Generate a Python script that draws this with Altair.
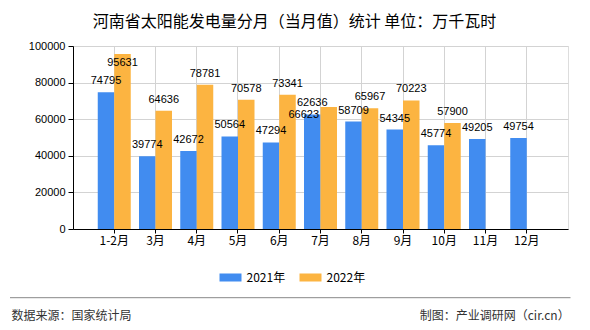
import altair as alt
import pandas as pd

months = ["1-2月", "3月", "4月", "5月", "6月", "7月", "8月", "9月", "10月", "11月", "12月"]
v2021 = [74795, 39774, 42672, 50564, 47294, 62636, 58709, 54345, 45774, 49205, 49754]
v2022 = [95631, 64636, 78781, 70578, 73341, 66623, 65967, 70223, 57900, None, None]
years = ["2021年", "2022年"]
colors = ["#418CF0", "#FCB441"]
y_ticks = [0, 20000, 40000, 60000, 80000, 100000]

title_text = "河南省太阳能发电量分月（当月值）统计  单位：万千瓦时"
source_text = "数据来源：国家统计局"
credit_text = "制图：产业调研网（cir.cn）"

rows = []
for m, a, b in zip(months, v2021, v2022):
    rows.append({"month": m, "year": years[0], "value": a})
    if b is not None:
        rows.append({"month": m, "year": years[1], "value": b})
df = pd.DataFrame(rows)

CJK = "Noto Sans CJK SC"
NUM = "Liberation Sans"
GRID = "#D3D3D3"

base = alt.Chart(df).encode(
    x=alt.X(
        "month:N",
        sort=months,
        scale=alt.Scale(paddingInner=0.2, paddingOuter=0.6),
        axis=alt.Axis(
            title=None, labelAngle=0, grid=True, gridColor=GRID, bandPosition=0.5,
            domainColor="#000", tickColor="#000", tickSize=4,
            labelFont=CJK, labelFontSize=12, labelColor="#000", labelPadding=2,
        ),
    ),
    xOffset=alt.XOffset("year:N", sort=years, scale=alt.Scale(paddingInner=0, paddingOuter=0)),
    y=alt.Y(
        "value:Q",
        scale=alt.Scale(domain=[0, 100000], nice=False),
        axis=alt.Axis(
            title=None, values=y_ticks, format="d", grid=True, gridColor=GRID,
            domainColor="#000", tickColor="#000", tickSize=5,
            labelFont=NUM, labelFontSize=11, labelColor="#000", labelPadding=3,
        ),
    ),
)

bars = base.mark_bar().encode(
    color=alt.Color(
        "year:N",
        sort=years,
        scale=alt.Scale(domain=years, range=colors),
        legend=alt.Legend(
            title=None, orient="none", direction="horizontal",
            legendX=146.5, legendY=220.5, padding=0,
            symbolType="M-1,-0.364H1V0.364H-1Z", symbolSize=484,
            symbolStrokeWidth=0, symbolOpacity=1,
            labelFont=CJK, labelFontSize=12, labelColor="#000",
            labelOffset=5, columnPadding=14,
        ),
    )
)

txt = dict(font=NUM, fontSize=11, color="#000", baseline="alphabetic")
label_text = alt.Text("value:Q", format="d")

labels_normal = base.mark_text(dy=-8, **txt).encode(text=label_text).transform_filter(
    "datum.value < 90000 && !(datum.month == '7月' && datum.year == '2022年')"
)
labels_top = base.mark_text(dy=12, **txt).encode(text=label_text).transform_filter(
    "datum.value >= 90000"
)
labels_shift = base.mark_text(dx=-25, dy=11, **txt).encode(text=label_text).transform_filter(
    "datum.month == '7月' && datum.year == '2022年'"
)

one = pd.DataFrame({"k": [0]})
footer_rule = alt.Chart(one).mark_rule(color="#888888", strokeWidth=1).encode(
    x=alt.value(-63), x2=alt.value(497.5), y=alt.value(251.7)
)
footer_left = alt.Chart(one).mark_text(
    font=CJK, fontSize=12, color="#333", align="left", baseline="middle"
).encode(x=alt.value(-61.5), y=alt.value(270), text=alt.value(source_text))
footer_right = alt.Chart(one).mark_text(
    font=CJK, fontSize=12, color="#333", align="right", baseline="middle"
).encode(x=alt.value(496.7), y=alt.value(270), text=alt.value(credit_text))

chart = alt.layer(
    bars, labels_normal, labels_top, labels_shift, footer_rule, footer_left, footer_right
).properties(
    width=495,
    height=183,
    title=alt.TitleParams(
        title_text, font=CJK, fontSize=16, fontWeight="normal", color="#000",
        anchor="middle", dx=-26, offset=10,
    ),
    autosize=alt.AutoSizeParams(type="none"),
    padding={"left": 73, "top": 46, "right": 22, "bottom": 101},
).configure_view(stroke=GRID).configure(background="white")

chart.save("out.html", embed_options={"renderer": "svg", "actions": False})
